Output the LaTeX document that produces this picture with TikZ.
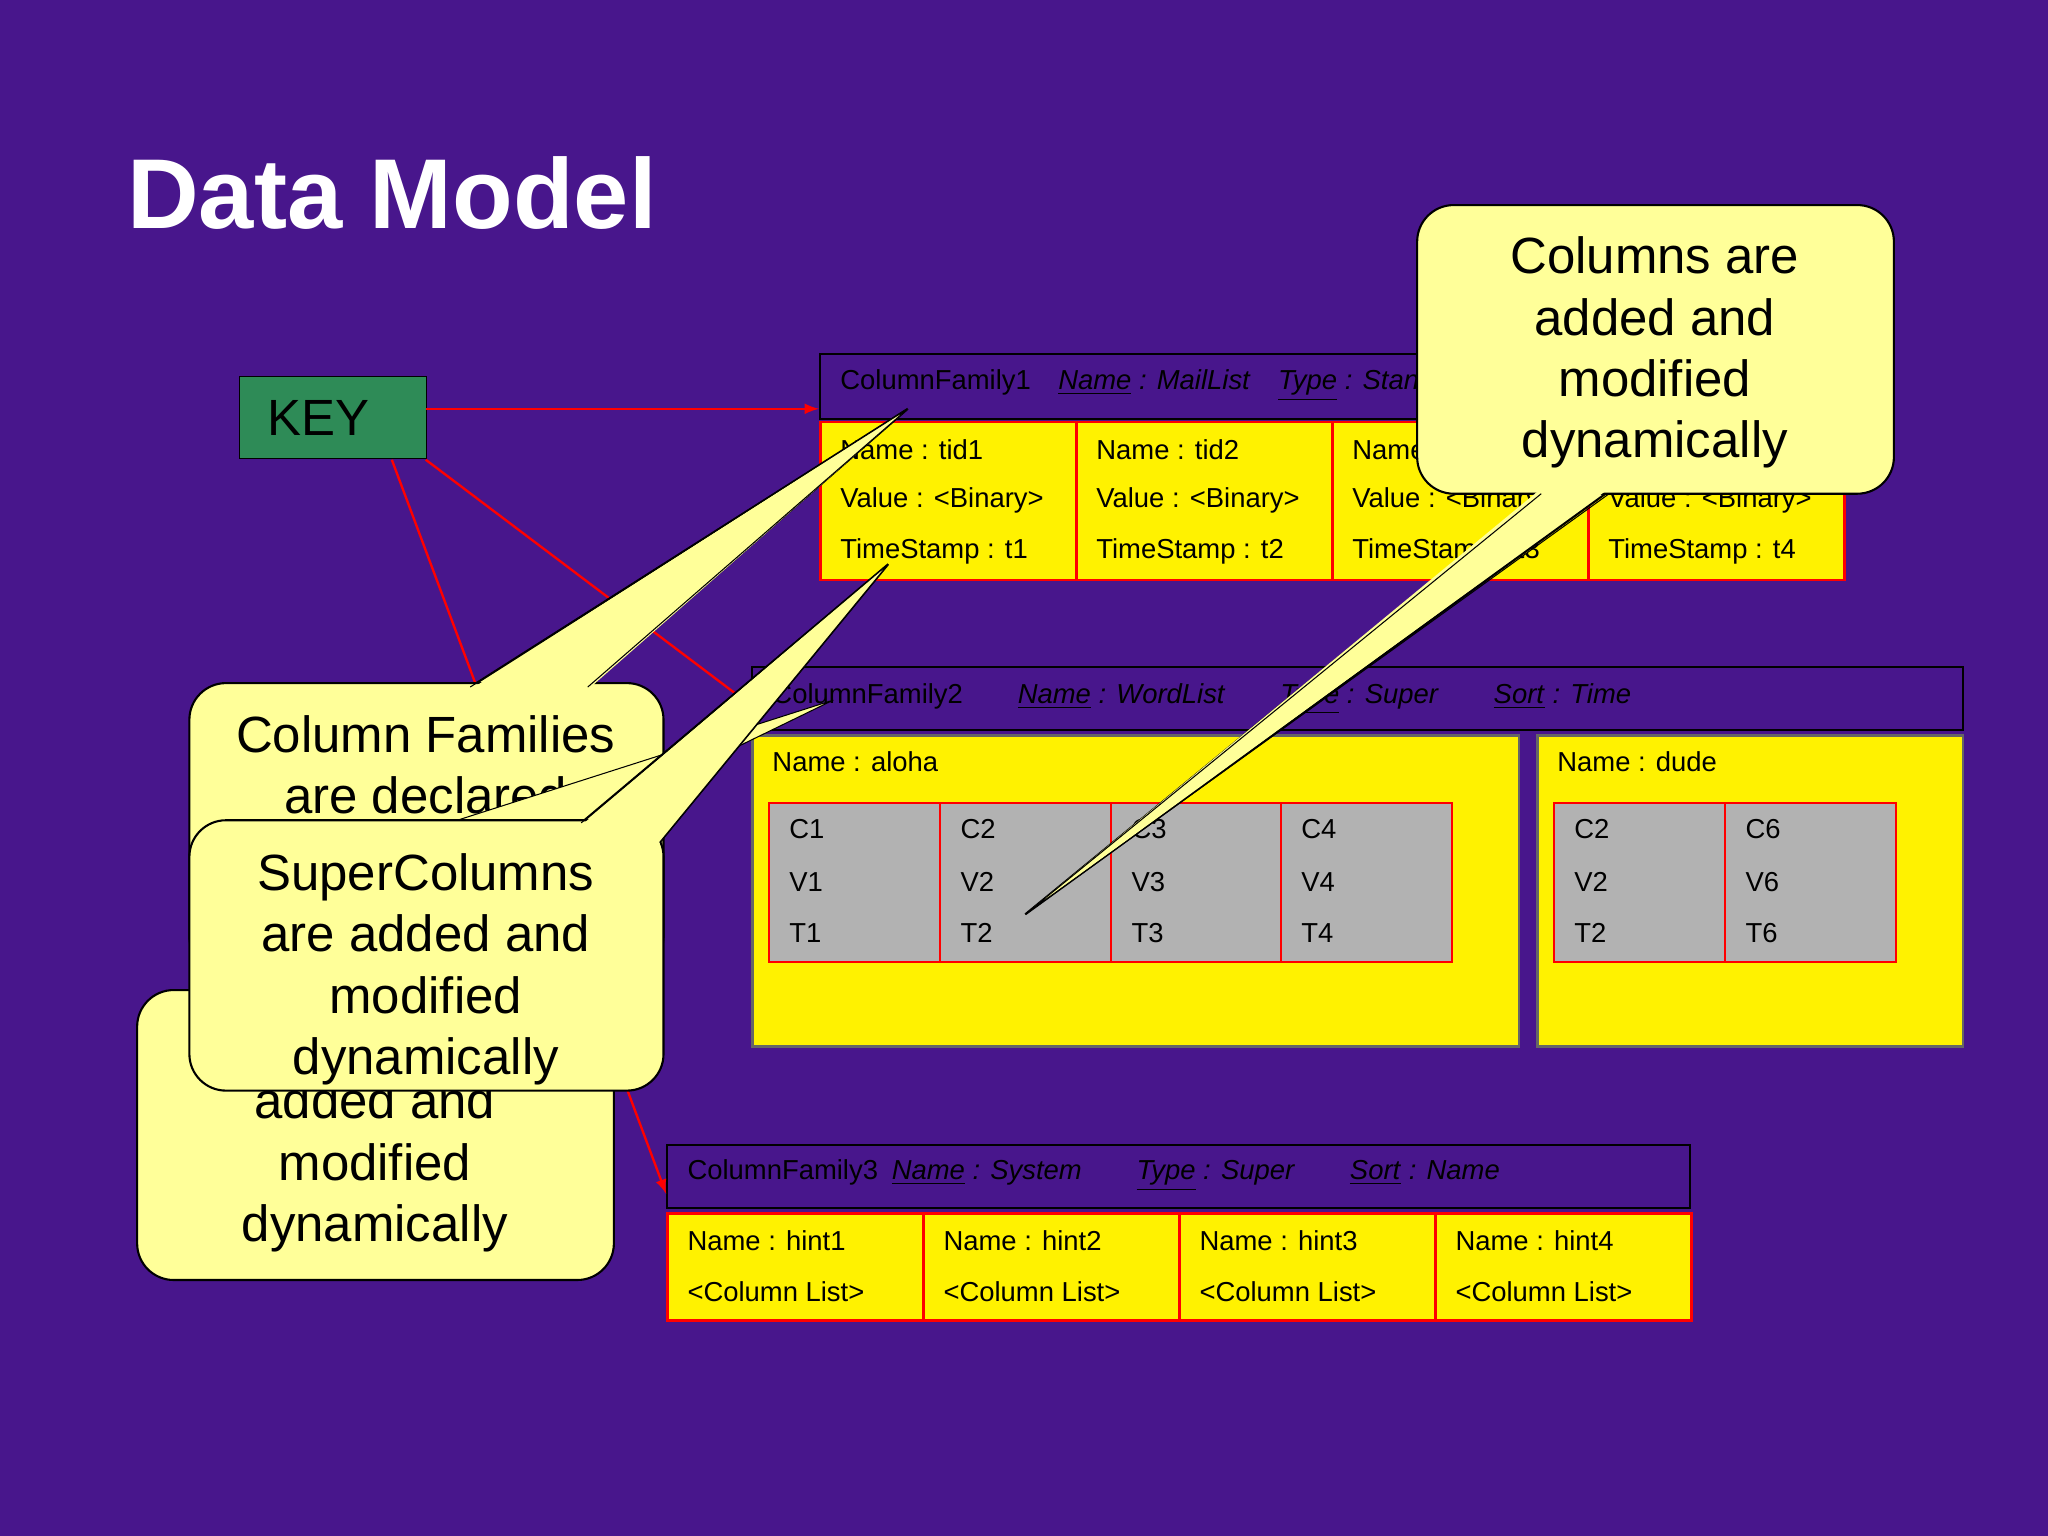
\documentclass[tikz,border=0pt]{standalone}
\usepackage{fontspec}
\setmainfont{Liberation Sans}
\definecolor{bgp}{RGB}{72,22,140}
\definecolor{keyg}{RGB}{46,139,87}
\definecolor{cly}{RGB}{255,255,153}
\begin{document}
\begin{tikzpicture}[x=0.5pt,y=-0.5pt,
  cell/.style={draw=red,fill=yellow,line width=1pt},
  grey/.style={draw=red,fill=black!30,line width=0.8pt},
  hdr/.style={draw=black,line width=0.8pt},
  txt/.style={anchor=west,inner sep=0pt,font=\fontsize{10.5}{12}\selectfont},
  call/.style={draw=black,fill=cly,line width=0.8pt},
  callf/.style={fill=cly},
  ctext/.style={align=center,font=\fontsize{19.5}{23.5}\selectfont},
  link/.style={draw=red,line width=0.9pt},
  arr/.style={link,-latex}]
\fill[bgp] (0,0) rectangle (1568,1176);
\node[anchor=base west,inner sep=0pt,text=white,font=\fontsize{38}{40}\selectfont\bfseries] (title) at (97,175) {Data Model};
% KEY
\node[draw=black,fill=keyg,minimum width=143pt/2,minimum height=63pt/2,anchor=north west,inner sep=0pt] (key) at (183,288) {};
\node[anchor=west,font=\fontsize{19.5}{22}\selectfont] (keyt) at (198,320) {KEY};
% CF1
\node[hdr,anchor=north west,minimum width=783pt/2,minimum height=50pt/2,inner sep=0pt] (cf1) at (627,270) {};
\node[txt] (cf1t) at (643,295) {ColumnFamily1\quad\underline{\textit{Name}}\textit{ : MailList}\quad\underline{\textit{Type}}\textit{ : Standard}\quad\underline{\textit{Sort}}\textit{ : Name}};
\foreach \i/\x in {1/627,2/823,3/1019,4/1215}{
  \node[cell,anchor=north west,minimum width=196pt/2,minimum height=121pt/2,inner sep=0pt] (c1\i) at (\x,322) {};
  \node[txt] (c1n\i) at (\x+16,344) {Name : tid\i};
  \node[txt] (c1v\i) at (\x+16,383) {Value : <Binary>};
  \node[txt] (c1s\i) at (\x+16,422) {TimeStamp : t\i};
}
% CF2
\node[hdr,anchor=north west,minimum width=927pt/2,minimum height=48pt/2,inner sep=0pt] (cf2) at (575,510) {};
\node[txt] (cf2t) at (591,535) {ColumnFamily2\qquad\underline{\textit{Name}}\textit{ : WordList}\qquad\underline{\textit{Type}}\textit{ : Super}\qquad\underline{\textit{Sort}}\textit{ : Time}};
\node[cell,draw=black!60,anchor=north west,minimum width=587pt/2,minimum height=238pt/2,inner sep=0pt] (sc1) at (575,562) {};
\node[txt] (sc1n) at (591,583) {Name : aloha};
\foreach \i/\x in {1/588,2/719,3/850,4/980}{
  \node[grey,anchor=north west,minimum width=131pt/2,minimum height=122pt/2,inner sep=0pt] (g\i) at (\x,614) {};
  \node[txt] (gc\i) at (\x+16,635) {C\i};
  \node[txt] (gv\i) at (\x+16,675) {V\i};
  \node[txt] (gt\i) at (\x+16,714) {T\i};
}
\node[cell,draw=black!60,anchor=north west,minimum width=326pt/2,minimum height=238pt/2,inner sep=0pt] (sc2) at (1176,562) {};
\node[txt] (sc2n) at (1192,583) {Name : dude};
\foreach \i/\x/\k in {5/1189/2,6/1320/6}{
  \node[grey,anchor=north west,minimum width=131pt/2,minimum height=122pt/2,inner sep=0pt] (g\i) at (\x,614) {};
  \node[txt] (gc\i) at (\x+16,635) {C\k};
  \node[txt] (gv\i) at (\x+16,675) {V\k};
  \node[txt] (gt\i) at (\x+16,714) {T\k};
}
% CF3
\node[hdr,anchor=north west,minimum width=783pt/2,minimum height=48pt/2,inner sep=0pt] (cf3) at (510,876) {};
\node[txt] (cf3t) at (526,900) {ColumnFamily3\enspace\underline{\textit{Name}}\textit{ : System}\qquad\underline{\textit{Type}}\textit{ : Super}\qquad\underline{\textit{Sort}}\textit{ : Name}};
\foreach \i/\x in {1/510,2/706,3/902,4/1098}{
  \node[cell,anchor=north west,minimum width=196pt/2,minimum height=82pt/2,inner sep=0pt] (c3\i) at (\x,928) {};
  \node[txt] (c3n\i) at (\x+16,950) {Name : hint\i};
  \node[txt] (c3l\i) at (\x+16,989) {<Column List>};
}
% links
\coordinate (k1) at (326,313); \coordinate (k2) at (326,352); \coordinate (k3) at (300,352);
\coordinate (t1) at (627,313); \coordinate (t2) at (575,540); \coordinate (t3) at (510,914);
\draw[arr] (k1) -- (t1);
\draw[link] (k2) -- (t2);
\draw[arr] (k3) -- (t3);
% callout bottom-left
\draw[call,rounded corners=14pt] (105,758) rectangle (470,980);
\node[ctext] (cb) at (287,870) {Columns are\\added and\\modified\\dynamically};
% callout column families
\coordinate (p1) at (695,313);
\draw[call] (360,526) -- (p1) -- (450,526);
\draw[call,rounded corners=14pt] (145,523) rectangle (508,745);
\fill[callf] (360,528) -- (p1) -- (450,528) -- cycle;
\draw (360,526) -- (p1) -- (450,526);
\node[ctext] (cfam) at (326,613) {Column Families\\are declared\\upfront};
% thin wedge to CF2
\coordinate (p2) at (638,536);
\fill[callf] (250,660) -- (p2) -- (449,628) -- cycle;
\draw (250,660) -- (p2) -- (449,628);
% callout supercolumns
\coordinate (p3) at (680,432);
\draw[call] (445,630) -- (p3) -- (505,645);
\draw[call,rounded corners=14pt] (145,628) rectangle (508,835);
\fill[callf] (445,632) -- (p3) -- (505,645) -- (505,650) -- (445,650) -- cycle;
\draw (445,630) -- (p3) -- (505,645);
\node[ctext] (csc) at (326,742) {SuperColumns\\are added and\\modified\\dynamically};
% callout top right
\coordinate (p4) at (785,700);
\draw[call] (1180,376) -- (p4) -- (1232,376);
\draw[call,rounded corners=14pt] (1085,157) rectangle (1450,378);
\fill[callf] (1180,374) -- (p4) -- (1232,374) -- cycle;
\draw (1180,378) -- (p4) -- (1232,378);
\node[ctext] (ccol) at (1267,270) {Columns are\\added and\\modified\\dynamically};
\end{tikzpicture}
\end{document}
